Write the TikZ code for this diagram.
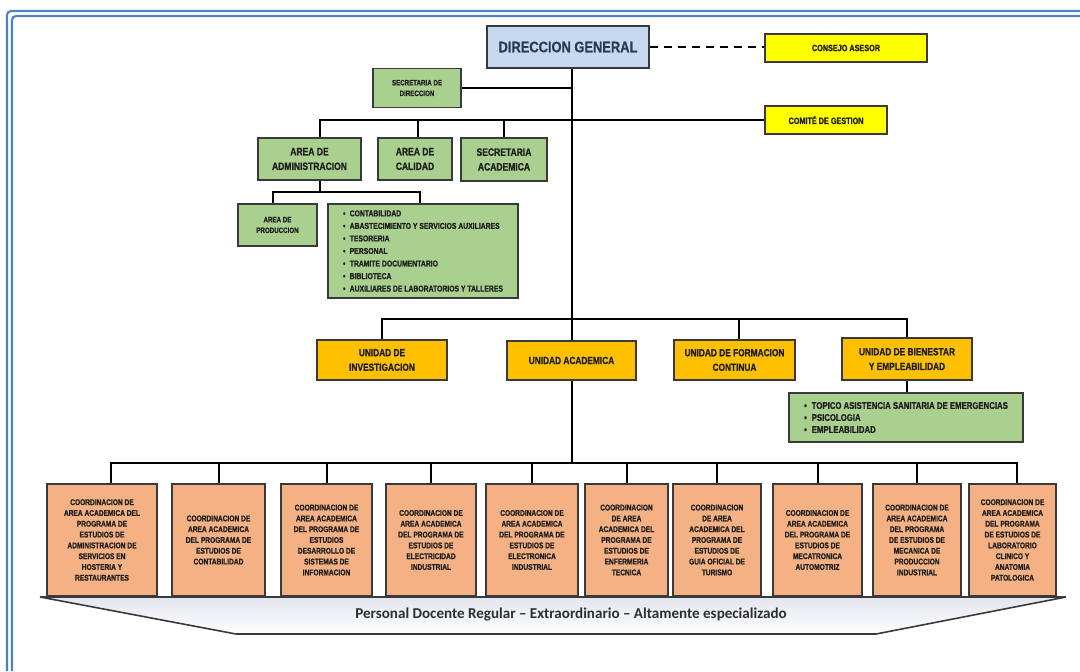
\documentclass[tikz,border=0pt]{standalone}
\usepackage{fontspec}
\setmainfont{Liberation Sans}
\newfontfamily\narrowf{Liberation Sans}[FakeStretch=0.8, BoldFeatures={FakeBold=1.0}]
\newfontfamily\dgfont{Liberation Sans}[FakeStretch=0.84, BoldFeatures={FakeBold=0.6}]
\newfontfamily\calfont{Carlito}
\definecolor{boxdraw}{HTML}{3A3A3A}
\definecolor{textdark}{HTML}{202020}
\definecolor{greenfill}{HTML}{A9D08E}
\definecolor{orangefill}{HTML}{FFC000}
\definecolor{salmonfill}{HTML}{F4B183}
\definecolor{yellowfill}{HTML}{FFFF00}
\definecolor{bluefill}{HTML}{C6D9F0}
\definecolor{framecol}{HTML}{4F81BD}
\definecolor{bannerfill}{HTML}{E3E6EE}
\definecolor{dgtext}{HTML}{2B3A55}
\definecolor{bannertext}{HTML}{2E2E2E}
\tikzset{
  sz/.style 2 args={minimum width=#1*0.75pt, minimum height=#2*0.75pt},
  box/.style={draw=boxdraw, line width=1pt, inner sep=1pt, align=center, text=textdark},
  gbox/.style={box, fill=greenfill, font={\narrowf\bfseries\fontsize{8}{11}\selectfont}},
  sgbox/.style={box, fill=greenfill, font={\narrowf\bfseries\fontsize{5.8}{8}\selectfont}},
  lbox/.style={box, fill=greenfill, align=left, font={\narrowf\bfseries\fontsize{6.4}{9.4}\selectfont}},
  ybox/.style={box, fill=yellowfill, font={\narrowf\bfseries\fontsize{6.8}{8}\selectfont}},
  obox/.style={box, fill=orangefill, font={\narrowf\bfseries\fontsize{7.8}{11}\selectfont}},
  cbox/.style={box, fill=salmonfill, font={\narrowf\bfseries\fontsize{6.2}{8.1}\selectfont}},
  conn/.style={line width=1.5pt, black},
  dashconn/.style={line width=1.8pt, black, dash pattern=on 6pt off 4.5pt},
  framel/.style={line width=1.6pt, framecol, rounded corners=3pt},
}
\begin{document}
\begin{tikzpicture}[x=0.75pt, y=-0.75pt]
\useasboundingbox (0,0) rectangle (1080,671);
% frame
\draw[framel] (1080,11) -- (7,11) -- (7,671);
\draw[framel] (1080,16) -- (12,16) -- (12,671);

% top
\node[box, fill=bluefill, sz={162}{42}, font={\dgfont\bfseries\fontsize{11.5}{13}\selectfont}, text=dgtext] (dg) at (568,47) {DIRECCION GENERAL};
\node[ybox, sz={162}{28}] (ca) at (846,48) {CONSEJO ASESOR};
\node[sgbox, sz={88}{39}] (sd) at (417,88) {SECRETARIA DE\\DIRECCION};
\node[ybox, sz={122}{28}] (cg) at (826,120) {COMITÉ DE GESTION};

\node[gbox, sz={103}{42}] (aa) at (309.5,159) {AREA DE\\ADMINISTRACION};
\node[gbox, sz={74}{42}] (ac) at (415,159) {AREA DE\\CALIDAD};
\node[gbox, sz={86}{43}] (sa) at (504,159.5) {SECRETARIA\\ACADEMICA};

\node[sgbox, sz={79}{42}] (ap) at (277.5,225) {AREA DE\\PRODUCCION};
\node[lbox, sz={190}{94}] (lst) at (423,251) {•\enspace CONTABILIDAD\\•\enspace ABASTECIMIENTO Y SERVICIOS AUXILIARES\\•\enspace TESORERIA\\•\enspace PERSONAL\\•\enspace TRAMITE DOCUMENTARIO\\•\enspace BIBLIOTECA\\•\enspace AUXILIARES DE LABORATORIOS Y TALLERES};

% units
\node[obox, sz={130}{40}] (ui) at (382,360) {UNIDAD DE\\INVESTIGACION};
\node[obox, sz={129}{39}] (ua) at (571.5,360.5) {UNIDAD ACADEMICA};
\node[obox, sz={121}{40}] (uf) at (734.5,360) {UNIDAD DE FORMACION\\CONTINUA};
\node[obox, sz={130}{42}] (ub) at (907,359) {UNIDAD DE BIENESTAR\\Y EMPLEABILIDAD};
\node[lbox, sz={234}{49}, font={\narrowf\bfseries\fontsize{7.3}{9}\selectfont}] (lb) at (906,417.5) {•\enspace TOPICO ASISTENCIA SANITARIA DE EMERGENCIAS\\•\enspace PSICOLOGIA\\•\enspace EMPLEABILIDAD};

% coordinations
\node[cbox, sz={110}{112}] (c1) at (102,540) {COORDINACION DE\\AREA ACADEMICA DEL\\PROGRAMA DE\\ESTUDIOS DE\\ADMINISTRACION DE\\SERVICIOS EN\\HOSTERIA Y\\RESTAURANTES};
\node[cbox, sz={93}{112}] (c2) at (218.5,540) {COORDINACION DE\\AREA ACADEMICA\\DEL PROGRAMA DE\\ESTUDIOS DE\\CONTABILIDAD};
\node[cbox, sz={91}{112}] (c3) at (326.5,540) {COORDINACION DE\\AREA ACADEMICA\\DEL PROGRAMA DE\\ESTUDIOS\\DESARROLLO DE\\SISTEMAS DE\\INFORMACION};
\node[cbox, sz={90}{112}] (c4) at (431,540) {COORDINACION DE\\AREA ACADEMICA\\DEL PROGRAMA DE\\ESTUDIOS DE\\ELECTRICIDAD\\INDUSTRIAL};
\node[cbox, sz={92}{112}] (c5) at (532,540) {COORDINACION DE\\AREA ACADEMICA\\DEL PROGRAMA DE\\ESTUDIOS DE\\ELECTRONICA\\INDUSTRIAL};
\node[cbox, sz={83}{112}] (c6) at (626.5,540) {COORDINACION\\DE AREA\\ACADEMICA DEL\\PROGRAMA DE\\ESTUDIOS DE\\ENFERMERIA\\TECNICA};
\node[cbox, sz={88}{112}] (c7) at (717,540) {COORDINACION\\DE AREA\\ACADEMICA DEL\\PROGRAMA DE\\ESTUDIOS DE\\GUIA OFICIAL DE\\TURISMO};
\node[cbox, sz={89}{112}] (c8) at (817.5,540) {COORDINACION DE\\AREA ACADEMICA\\DEL PROGRAMA DE\\ESTUDIOS DE\\MECATRONICA\\AUTOMOTRIZ};
\node[cbox, sz={88}{112}] (c9) at (917,540) {COORDINACION DE\\AREA ACADEMICA\\DEL PROGRAMA\\DE ESTUDIOS DE\\MECANICA DE\\PRODUCCION\\INDUSTRIAL};
\node[cbox, sz={87}{112}] (c10) at (1012.5,540) {COORDINACION DE\\AREA ACADEMICA\\DEL PROGRAMA\\DE ESTUDIOS DE\\LABORATORIO\\CLINICO Y\\ANATOMIA\\PATOLOGICA};

% banner
\filldraw[draw=boxdraw, line width=1.2pt, top color=bannerfill, bottom color=white!94!bannerfill] (40,597) -- (1066,597) -- (876,634) -- (236,634) -- cycle;
\node[font={\calfont\bfseries\fontsize{11.3}{13}\selectfont}, text=bannertext] (banner) at (571,614.5) {Personal Docente Regular – Extraordinario – Altamente especializado};

% connectors
\coordinate (pb) at (0,192);
\coordinate (ubus) at (0,319);
\coordinate (bbus) at (0,463);
\draw[dashconn] (dg.east) -- (dg.east -| ca.west);
\draw[conn] (ua.north |- dg.south) -- (ua.north);
\draw[conn] (sd.east) -- (sd.east -| ua.north);
\draw[conn] (cg.west) -| ([xshift=7.5pt]aa.north);
\draw[conn] ([xshift=2.25pt]ac.north) -- ([xshift=2.25pt]ac.north |- cg.west);
\draw[conn] (sa.north) -- (sa.north |- cg.west);
\draw[conn] ([xshift=7.5pt]aa.south) -- ([xshift=7.5pt]aa.south |- pb);
\draw[conn] ([xshift=-3.4pt]ap.north) |- ([xshift=-2.25pt]lst.north |- pb) -- ([xshift=-2.25pt]lst.north);
\draw[conn] (ui.north) |- (ub.north |- ubus) -- (ub.north);
\draw[conn] ([xshift=3.4pt]uf.north) -- ([xshift=3.4pt]uf.north |- ubus);
\draw[conn] (ub.south) -- (ub.south |- lb.north);
\draw[conn] (ua.south) -- (ua.south |- bbus);
\draw[conn] ([xshift=6.75pt]c1.north) |- ([xshift=3.4pt]c10.north |- bbus) -- ([xshift=3.4pt]c10.north);
\foreach \n in {c2,c3,c4,c5,c6,c7,c8,c9} {
  \draw[conn] (\n.north) -- (\n.north |- bbus);
}
\end{tikzpicture}
\end{document}
